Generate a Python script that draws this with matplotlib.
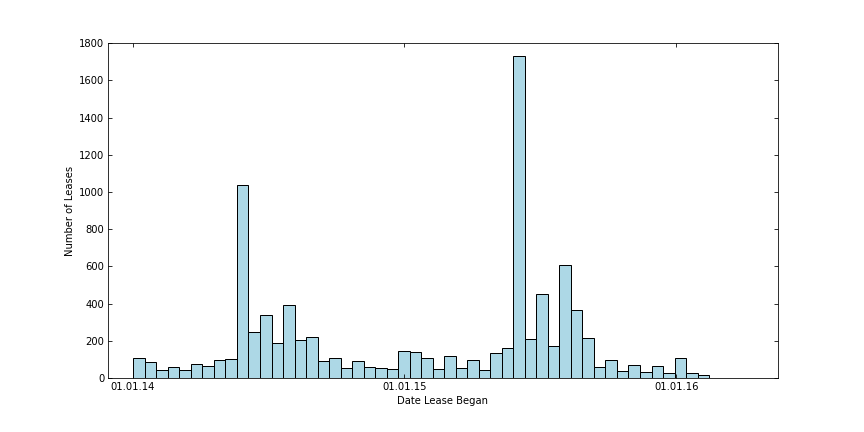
import datetime as dt
import numpy as np
import matplotlib
matplotlib.use('Agg')
import matplotlib as mpl
import matplotlib.pyplot as plt
import matplotlib.dates as mdates

# Old-notebook look: ticks inside, on all four sides
mpl.rcParams['font.family'] = 'DejaVu Sans'
mpl.rcParams['font.size'] = 10
mpl.rcParams['xtick.direction'] = 'in'
mpl.rcParams['ytick.direction'] = 'in'
mpl.rcParams['xtick.top'] = True
mpl.rcParams['ytick.right'] = True
mpl.rcParams['xtick.major.size'] = 4
mpl.rcParams['ytick.major.size'] = 4

# Data: leases per bin (50 equal bins between first and last lease date)
counts = [107, 86, 43, 59, 43, 75, 64, 97, 102, 1037,
          247, 339, 188, 392, 204, 220, 91, 106, 52, 90,
          57, 52, 47, 145, 140, 106, 47, 116, 52, 97,
          41, 133, 159, 1730, 208, 450, 172, 606, 364, 213,
          57, 95, 36, 68, 30, 63, 25, 106, 25, 14]
first_lease = dt.datetime(2014, 1, 2)
last_lease = dt.datetime(2016, 2, 14)

edges = np.linspace(mdates.date2num(first_lease), mdates.date2num(last_lease), len(counts) + 1)

fig = plt.figure(figsize=(12, 6), dpi=72)
ax = fig.add_axes([0.125, 0.125, 0.775, 0.775])

ax.hist(edges[:-1], bins=edges, weights=counts, color='lightblue',
        edgecolor='black', linewidth=1)

ax.set_xlim(dt.datetime(2013, 11, 29), dt.datetime(2016, 5, 16))
ax.set_ylim(0, 1800)
ax.set_yticks(range(0, 1801, 200))

ax.xaxis.set_major_locator(mdates.YearLocator())
ax.xaxis.set_major_formatter(mdates.DateFormatter('%d.%m.%y'))
ax.xaxis.set_minor_locator(mpl.ticker.NullLocator())

ax.set_xlabel('Date Lease Began')
ax.set_ylabel('Number of Leases')

plt.savefig('out.png', dpi=72)
